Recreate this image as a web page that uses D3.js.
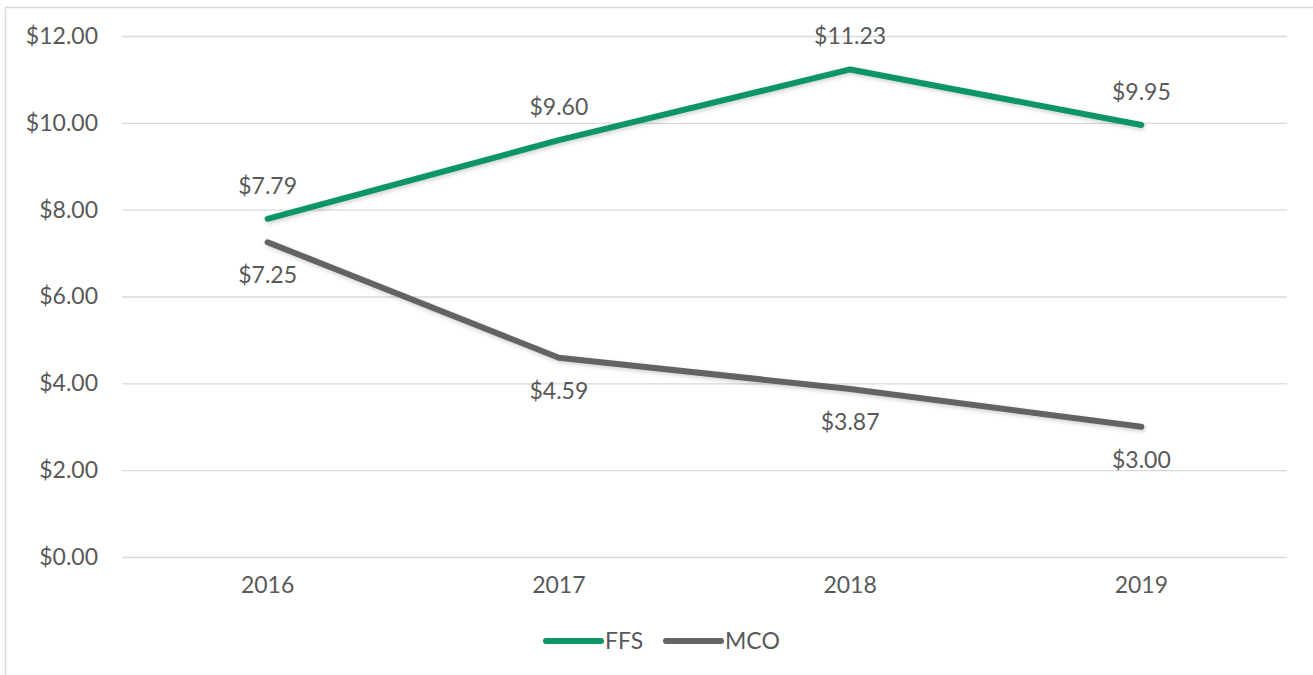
<!DOCTYPE html>
<html><head><meta charset="utf-8">
<script src="https://cdn.jsdelivr.net/npm/d3@7"></script>
<style>
body{margin:0;background:#fff;}
text{font-family:Lato,"Open Sans",sans-serif;fill:#595959;}
</style></head>
<body>
<svg id="c" width="1313" height="675"></svg>
<script>
const categories = ["2016","2017","2018","2019"];
const ffsValues = [7.79, 9.60, 11.23, 9.95];
const mcoValues = [7.25, 4.59, 3.87, 3.00];
const yTicks = [0, 2, 4, 6, 8, 10, 12];
const seriesNames = ["FFS","MCO"];
const colors = {FFS:"#0E9566", MCO:"#646464"};
const FS = 23;

const svg = d3.select("#c");
svg.append("rect").attr("x",5.5).attr("y",7.5).attr("width",1320).attr("height",700)
  .attr("fill","none").attr("stroke","#d9d9d9").attr("stroke-width",1.5);

const pLeft=122, pRight=1287, pTop=36, pBottom=557;
const x = d3.scaleBand().domain(categories).range([pLeft,pRight]);
const y = d3.scaleLinear().domain([0,12]).range([pBottom,pTop]);

const yAxis = svg.append("g").attr("transform",`translate(${pLeft},0)`)
  .call(d3.axisLeft(y).tickValues(yTicks).tickSize(-(pRight-pLeft)).tickPadding(24).tickFormat(d=>"$"+d3.format(".2f")(d)));
yAxis.select(".domain").remove();
yAxis.selectAll("line").attr("stroke","#d9d9d9").attr("stroke-width",1.3);
yAxis.selectAll("text").attr("font-size",FS).attr("fill","#595959").style("font-family","Lato,'Open Sans',sans-serif");

const xAxis = svg.append("g").attr("transform",`translate(0,${pBottom})`)
  .call(d3.axisBottom(x).tickSize(0).tickPadding(20));
xAxis.select(".domain").remove();
xAxis.selectAll("text").attr("font-size",FS).attr("fill","#595959").style("font-family","Lato,'Open Sans',sans-serif");

const defs = svg.append("defs");
const f = defs.append("filter").attr("id","sh").attr("x","-10%").attr("y","-10%").attr("width","120%").attr("height","130%");
f.append("feDropShadow").attr("dx",1).attr("dy",2).attr("stdDeviation",2).attr("flood-color","#000").attr("flood-opacity",0.18);

const series = [{name:"FFS",values:ffsValues,pos:"above"},{name:"MCO",values:mcoValues,pos:"below"}];
const line = d3.line().x((d,i)=>x(categories[i])+x.bandwidth()/2).y(d=>y(d));
series.forEach(s=>{
  svg.append("path").datum(s.values).attr("d",line).attr("fill","none")
    .attr("stroke",colors[s.name]).attr("stroke-width",6).attr("stroke-linecap","round").attr("stroke-linejoin","round")
    .attr("filter","url(#sh)");
});
series.forEach(s=>{
  svg.selectAll(null).data(s.values).enter().append("text")
    .attr("x",(d,i)=>x(categories[i])+x.bandwidth()/2)
    .attr("y",d=>y(d)+(s.pos==="above"?-33:33))
    .attr("dy","0.35em").attr("text-anchor","middle").attr("font-size",FS)
    .text(d=>"$"+d3.format(".2f")(d));
});

// legend
const leg = svg.append("g");
const legItems = [{name:"FFS",x0:546},{name:"MCO",x0:666}];
legItems.forEach(l=>{
  leg.append("line").attr("x1",l.x0).attr("x2",l.x0+55).attr("y1",641).attr("y2",641)
    .attr("stroke",colors[l.name]).attr("stroke-width",6).attr("stroke-linecap","round");
  leg.append("text").attr("x",l.x0+59).attr("y",641).attr("dy","0.35em").attr("font-size",FS).text(l.name);
});
</script>
</body></html>
